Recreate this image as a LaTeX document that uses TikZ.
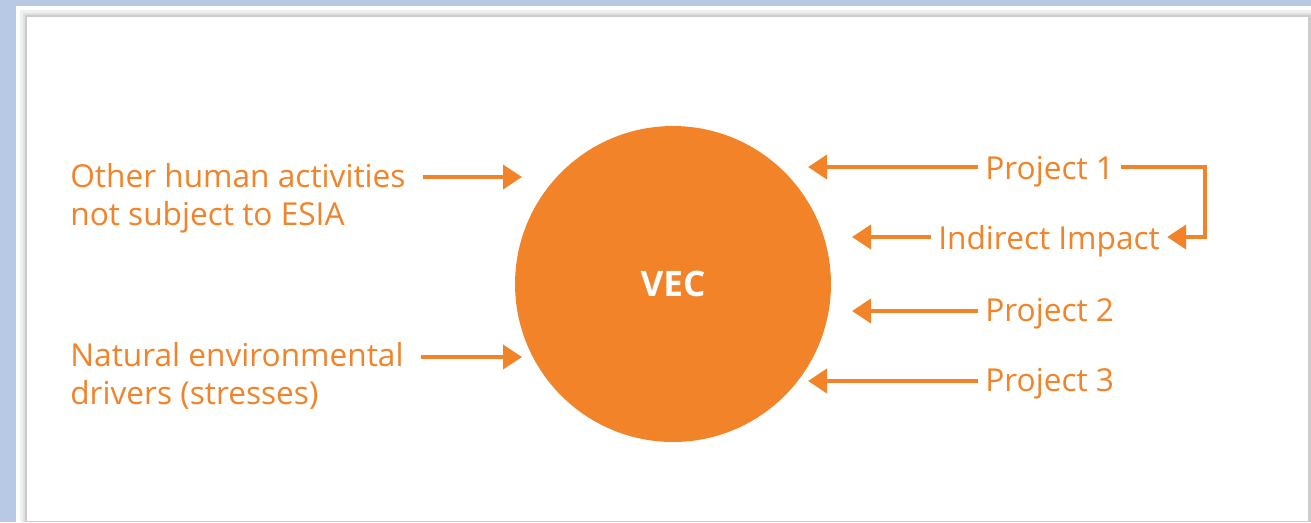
\documentclass[tikz,border=0pt]{standalone}
\usepackage{fontspec}
\setmainfont{Open Sans}
\usetikzlibrary{arrows.meta}
\definecolor{vecorange}{RGB}{242, 131, 41}
\definecolor{pageblue}{RGB}{184, 201, 230}
\tikzstyle{driver} = [
  anchor=base west,
  align=left,
  inner xsep=0.34cm,
  inner ysep=0pt,
  text=vecorange,
  font=\fontsize{18}{21.6}\selectfont,
]
\tikzstyle{project} = [
  driver,
  inner xsep=0.14cm,
]
\tikzstyle{impact} = [
  line width=0.08cm,
  draw=vecorange,
  -{Triangle[length=0.38cm, width=0.48cm]},
]

\begin{document}
\begin{tikzpicture}[x=0.02cm, y=-0.02cm]
            \def\radius{3.16cm}

            % Page and panel
            \fill[pageblue] (0,0) rectangle (1311,522);
            \fill[white] (16,6) rectangle (1311,522);
            \fill[black!6] (20,10) rectangle (1311,522);
            \fill[black!12] (23,13) rectangle (1311,522);
            \fill[black!20] (25,15) rectangle (1311,522);
            \fill[white] (27,17) rectangle (1308,521);

            % The component
            \node[circle, fill=vecorange, minimum size=2*\radius, inner sep=0pt,
              text=white, font=\fontsize{20}{24}\selectfont\bfseries] (vec) at (673,284) {VEC};

            % Labels (placed at their last baseline)
            \node[driver] (other) at (53,225) {Other human activities\\not subject to ESIA};
            \node[driver] (natural) at (53,404) {Natural environmental\\drivers (stresses)};
            \node[project] (p1) at (978,179) {Project 1};
            \node[project] (ind) at (931,249) {Indirect Impact};
            \node[project] (p2) at (978,321) {Project 2};
            \node[project] (p3) at (978,391) {Project 3};

            % Arrow ends
            \coordinate (otherTip) at (522,177);
            \coordinate (naturalTip) at (522,357);
            \coordinate (p1Tip) at (808,167);
            \coordinate (indTip) at (852,237);
            \coordinate (p2Tip) at (852,311);
            \coordinate (p3Tip) at (808,381);
            \coordinate (bend) at (1205,167);

            % Arrows
            \draw[impact] (other.east |- otherTip) -- (otherTip);
            \draw[impact] (natural.east |- naturalTip) -- (naturalTip);
            \draw[impact] (p1.west |- p1Tip) -- (p1Tip);
            \draw[impact] (ind.west |- indTip) -- (indTip);
            \draw[impact] (p2.west |- p2Tip) -- (p2Tip);
            \draw[impact] (p3.west |- p3Tip) -- (p3Tip);
            \draw[impact] (p1.east |- p1Tip) -- (bend) |- (ind.east |- indTip);
          \end{tikzpicture}
\end{document}
